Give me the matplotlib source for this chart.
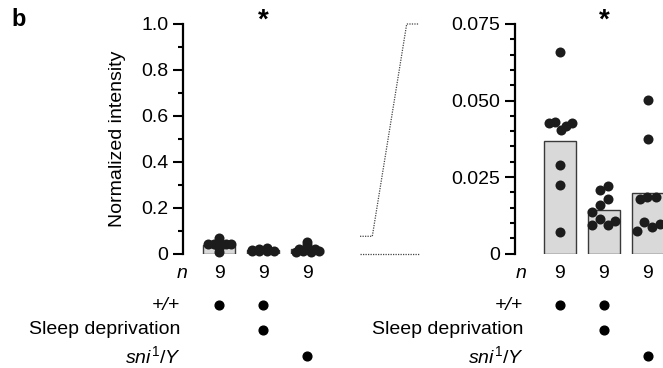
import numpy as np
import matplotlib
matplotlib.use("Agg")
import matplotlib.pyplot as plt
from matplotlib.lines import Line2D
from matplotlib.transforms import blended_transform_factory

plt.rcParams["font.family"] = ["Liberation Sans", "DejaVu Sans"]
plt.rcParams["mathtext.fontset"] = "custom"
plt.rcParams["mathtext.rm"] = "Liberation Sans"
plt.rcParams["mathtext.it"] = "Liberation Sans:italic"

# Datos
bar_values = [0.0369, 0.0143, 0.0198]
group1 = [0.0659, 0.0425, 0.0430, 0.0403, 0.0416, 0.0428, 0.0289, 0.0223, 0.0070]
group2 = [0.0206, 0.0219, 0.0177, 0.0158, 0.0134, 0.0112, 0.0092, 0.0092, 0.0107]
group3 = [0.0501, 0.0374, 0.0177, 0.0186, 0.0184, 0.0074, 0.0103, 0.0087, 0.0096]
n_values = ["9", "9", "9"]
row_labels = ["+/+", "Sleep deprivation", r"$\mathit{sni}^{\mathit{1}}\mathit{/Y}$"]
row_styles = ["italic", "normal", "normal"]
conditions = [[1, 1, 0], [0, 1, 0], [0, 0, 1]]
significant = [False, True, False]

# desplazamientos horizontales del enjambre (unidades de barra)
swarm1 = [0, -0.25, -0.11, 0.015, 0.15, 0.265, 0, 0, 0]
swarm2 = [-0.085, 0.087, 0.087, -0.085, -0.26, -0.085, -0.26, 0.087, 0.26]
swarm3 = [0, 0, -0.18, -0.01, 0.18, -0.255, -0.087, 0.087, 0.27]

groups = [group1, group2, group3]
swarms = [swarm1, swarm2, swarm3]
x = np.arange(len(bar_values))

FS = 14
fig = plt.figure(figsize=(6.63, 3.68), dpi=100)
W, H = 663, 368
bottom = (H - 253.5) / H
height = 229.5 / H
ax1 = fig.add_axes([183 / W, bottom, 146 / W, height])
ax2 = fig.add_axes([515 / W, bottom, 148.7 / W, height])


def draw_panel(ax, ymax, major, minor, labels, xlim):
    ax.bar(x, bar_values, width=0.72, color="#d9d9d9", edgecolor="#3a3a3a",
           linewidth=1.0, zorder=1)
    for i, (vals, offs) in enumerate(zip(groups, swarms)):
        ax.scatter(i + np.array(offs), vals, s=52, color="#1c1c1c",
                   linewidths=0, zorder=3, clip_on=False)
    ax.set_xlim(*xlim)
    ax.set_ylim(0, ymax)
    ax.set_yticks(major)
    ax.set_yticklabels(labels, fontsize=FS)
    ax.set_yticks(minor, minor=True)
    ax.set_xticks([])
    for s in ["top", "right", "bottom"]:
        ax.spines[s].set_visible(False)
    ax.spines["left"].set_linewidth(1.6)
    ax.tick_params(axis="y", which="major", length=7.5, width=1.5, pad=3)
    ax.tick_params(axis="y", which="minor", length=3.5, width=1.5)
    tr = blended_transform_factory(ax.transData, fig.transFigure)
    for i, sig in enumerate(significant):
        if sig:
            ax.text(i, 1 - 21 / H, "*", transform=tr, ha="center", va="center",
                    fontsize=20, fontweight="bold")


def draw_table(ax, n_x, lab_x):
    tr = blended_transform_factory(ax.transData, fig.transFigure)
    ax.text(n_x, 1 - 273 / H, "n", transform=tr, ha="right", va="center",
            fontsize=FS, fontstyle="italic")
    for i, n in enumerate(n_values):
        ax.text(i, 1 - 273 / H, n, transform=tr, ha="center", va="center", fontsize=FS)
    rows_y = [305, 330, 356]
    for r, (lab, st) in enumerate(zip(row_labels, row_styles)):
        yy = 1 - rows_y[r] / H
        ax.text(lab_x, yy, lab, transform=tr, ha="right", va="center",
                fontsize=FS, fontstyle=st)
        for i, on in enumerate(conditions[r]):
            if on:
                ax.plot(i, yy, "o", color="black", markersize=6.3, transform=tr,
                        clip_on=False)


draw_panel(ax1, 1.0, [0, 0.2, 0.4, 0.6, 0.8, 1.0], np.arange(0.1, 1.0, 0.2),
           ["0", "0.2", "0.4", "0.6", "0.8", "1.0"], (-0.82, 2.5))
ax1.set_ylabel("Normalized intensity", fontsize=FS, labelpad=11)

draw_panel(ax2, 0.075, [0, 0.025, 0.05, 0.075],
           [0.005, 0.01, 0.015, 0.02, 0.03, 0.035, 0.04, 0.045, 0.055, 0.06, 0.065, 0.07],
           ["0", "0.025", "0.050", "0.075"], (-1.02, 2.36))

draw_table(ax1, -0.72, -0.88)
draw_table(ax2, -0.76, -0.83)

# Líneas punteadas del zoom
inv = fig.transFigure.inverted()
y_low = inv.transform(ax1.transData.transform((0, 0.075)))[1]
y_zero = inv.transform(ax1.transData.transform((0, 0)))[1]
y_top = inv.transform(ax2.transData.transform((0, 0.075)))[1]
xs = [360 / W, 372.3 / W, 406.7 / W, 419.3 / W]
fig.add_artist(Line2D(xs, [y_low, y_low, y_top, y_top], color="#444444",
                      linestyle=(0, (1, 1)), linewidth=0.9))
fig.add_artist(Line2D([xs[0], xs[3]], [y_zero, y_zero], color="#444444",
                      linestyle=(0, (1, 1)), linewidth=0.9))

fig.text(11 / W, 1 - 20 / H, "b", fontsize=17, fontweight="bold", ha="left", va="center")

fig.savefig("out.png", dpi=100)
